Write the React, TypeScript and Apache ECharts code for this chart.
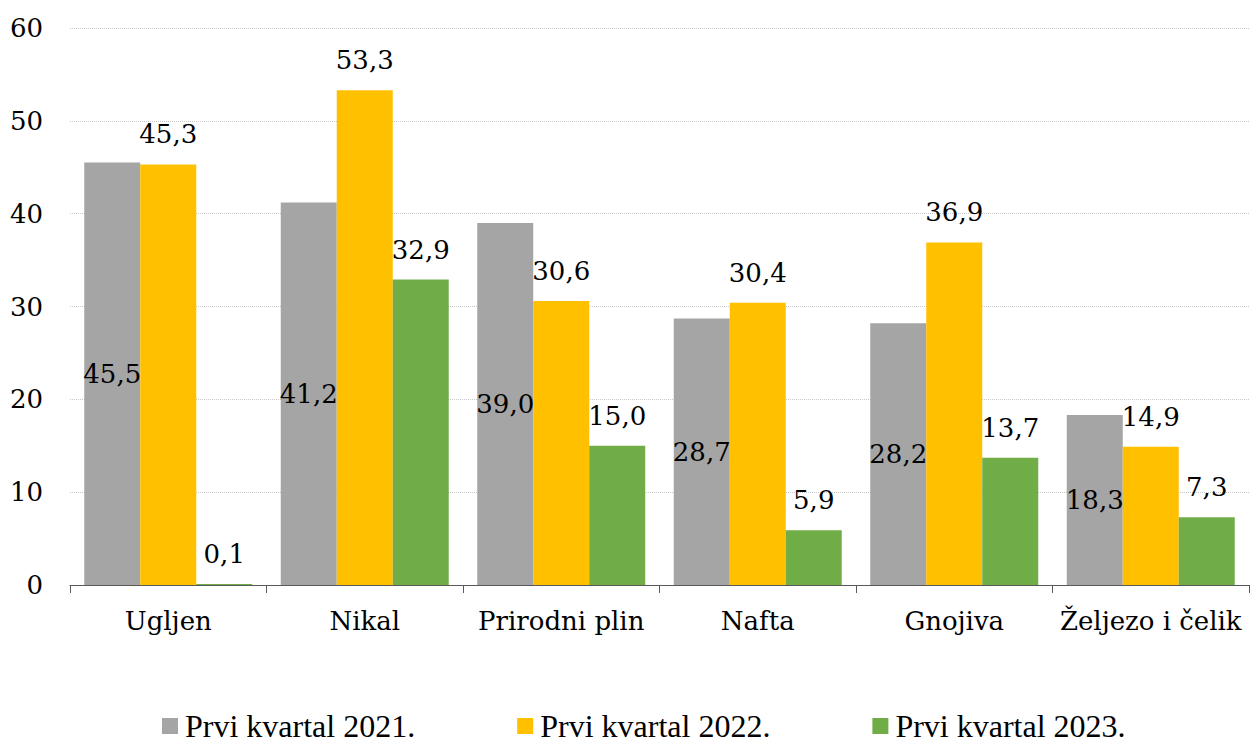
import React, { useEffect, useRef } from "react";
import * as echarts from "echarts";

const categories = ["Ugljen", "Nikal", "Prirodni plin", "Nafta", "Gnojiva", "Željezo i čelik"];
const seriesNames = ["Prvi kvartal 2021.", "Prvi kvartal 2022.", "Prvi kvartal 2023."];
const values2021 = [45.5, 41.2, 39.0, 28.7, 28.2, 18.3];
const values2022 = [45.3, 53.3, 30.6, 30.4, 36.9, 14.9];
const values2023 = [0.1, 32.9, 15.0, 5.9, 13.7, 7.3];
const colors = ["#a5a5a5", "#ffc000", "#70ad47"];

const LEGEND_FONT = "serif";
const LABEL_FONT = "DejaVu Serif";
const FS = 26;

const fmt = (v: number) => v.toFixed(1).replace(".", ",");

export default function App() {
  const ref = useRef<HTMLDivElement>(null);
  useEffect(() => {
    if (!ref.current) return;
    const chart = echarts.init(ref.current, null, { renderer: "svg" });
    const labelBase = {
      show: true,
      color: "#000",
      fontFamily: LABEL_FONT,
      fontSize: FS,
      formatter: (p: any) => fmt(p.value),
    };
    const allData = [values2021, values2022, values2023];
    chart.setOption({
      animation: false,
      textStyle: { fontFamily: LEGEND_FONT },
      grid: { left: 70, right: 1, top: 28, bottom: 153, containLabel: false, outerBoundsMode: "none" },
      legend: {
        left: 157,
        top: 705,
        itemWidth: 16,
        itemHeight: 16,
        itemGap: 102,
        icon: "rect",
        textStyle: { fontFamily: LEGEND_FONT, fontSize: 32, lineHeight: 28, color: "#000", padding: [0, 0, 0, 2] },
        data: seriesNames,
      },
      xAxis: {
        type: "category",
        data: categories,
        boundaryGap: true,
        axisLine: { show: true, lineStyle: { color: "#595959", width: 1 } },
        axisTick: { show: true, length: 8, alignWithLabel: false, lineStyle: { color: "#595959" } },
        axisLabel: { color: "#000", fontFamily: LABEL_FONT, fontSize: FS, margin: 23, interval: 0 },
      },
      yAxis: {
        type: "value",
        min: 0,
        max: 60,
        interval: 10,
        axisLine: { show: false },
        axisTick: { show: false },
        axisLabel: { color: "#000", fontFamily: LABEL_FONT, fontSize: FS, margin: 27 },
        splitLine: { show: true, lineStyle: { color: "#c8c8c8", type: "dotted", width: 1 } },
      },
      series: allData.map((d, i) => ({
        type: "bar",
        name: seriesNames[i],
        data: d,
        barGap: "0%",
        barCategoryGap: "14.5%",
        itemStyle: { color: colors[i] },
        label: i === 0
          ? { ...labelBase, position: "inside" }
          : { ...labelBase, position: "top", distance: 17 },
      })),
    });
    return () => chart.dispose();
  }, []);
  return (
    <div
      ref={ref}
      style={{ position: "fixed", left: 0, top: 0, width: 1250, height: 738, background: "#fff" }}
    />
  );
}
